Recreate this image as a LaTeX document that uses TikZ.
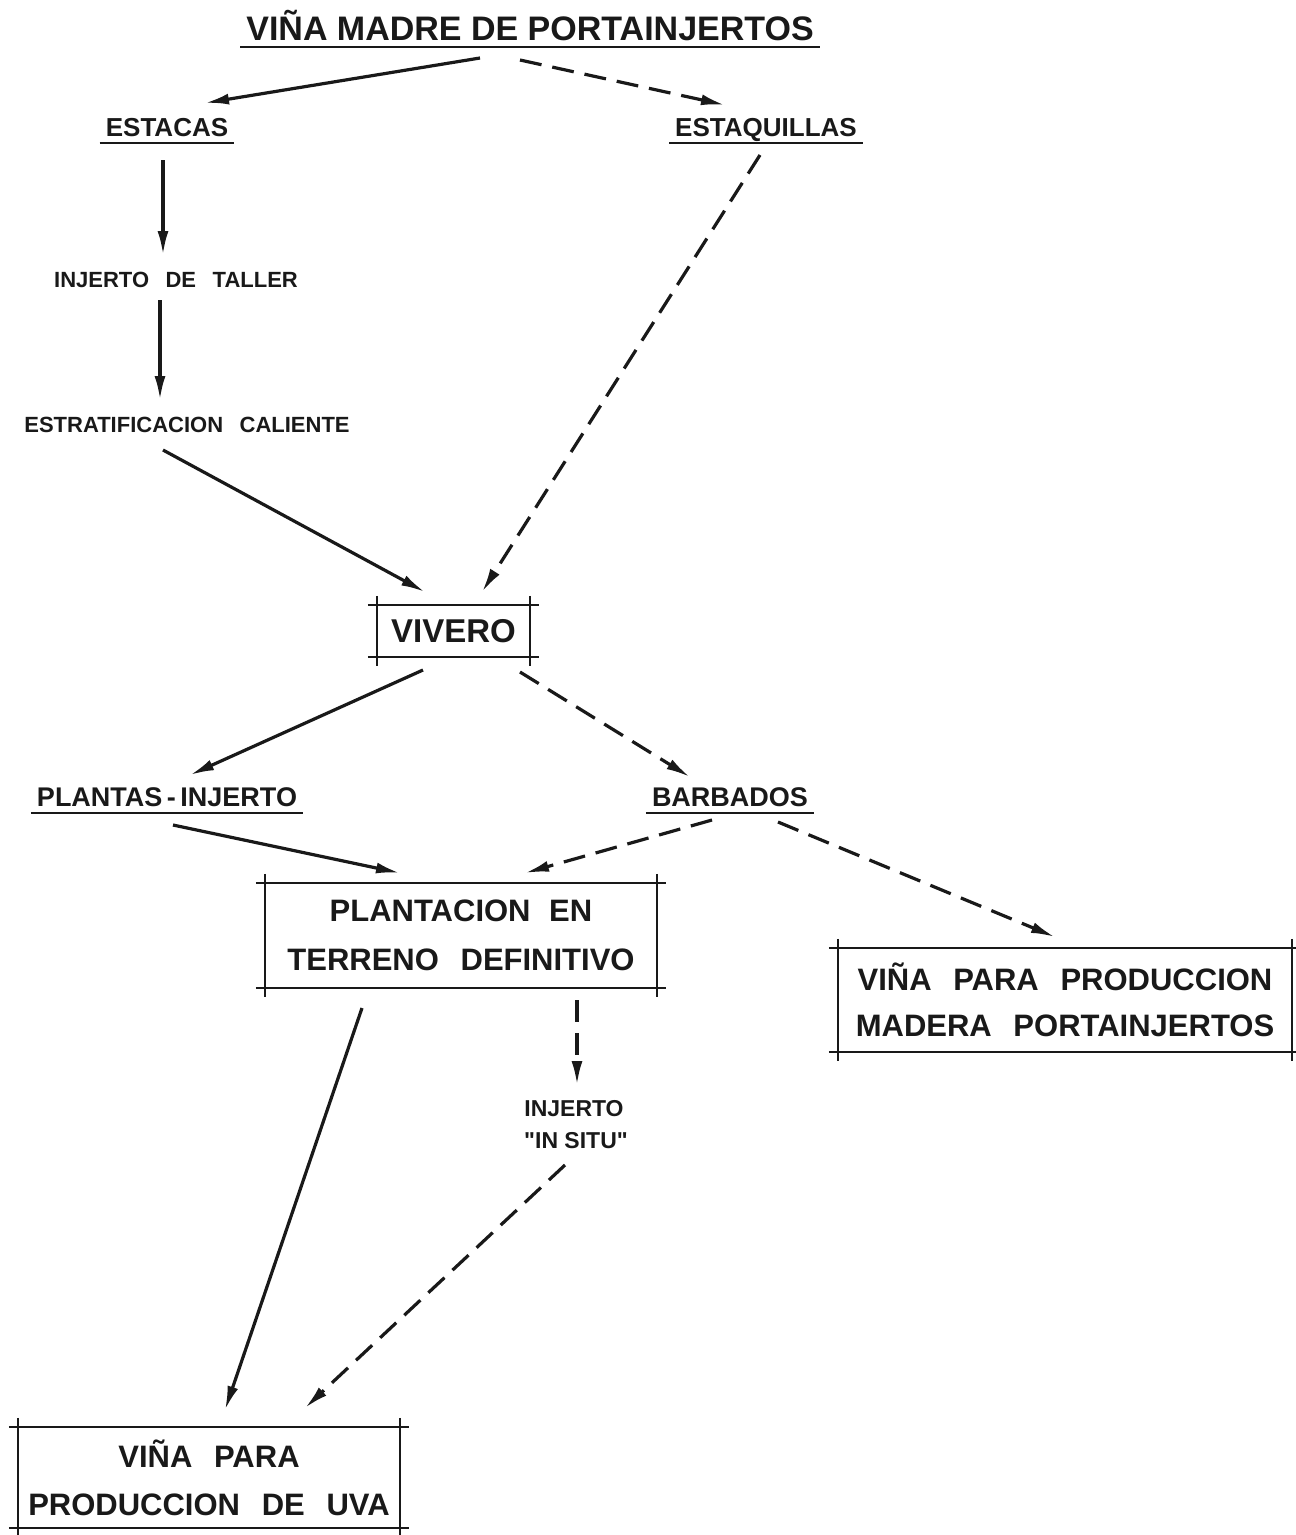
\documentclass[tikz,border=0pt]{standalone}
\usepackage{fontspec}
\setmainfont{Liberation Sans}
\newfontfamily\qfont{Liberation Sans}
\usetikzlibrary{arrows.meta,calc}
\newcommand\fsz[1]{\fontsize{#1}{#1}\selectfont\bfseries}
\newcommand\sq{{\qfont\bfseries\symbol{34}}}
\newcommand\ovbox[1]{%
  \draw[boxline] ([xshift=-9pt]#1.north west) -- ([xshift=9pt]#1.north east);
  \draw[boxline] ([xshift=-9pt]#1.south west) -- ([xshift=9pt]#1.south east);
  \draw[boxline] ([yshift=9pt]#1.north west) -- ([yshift=-9pt]#1.south west);
  \draw[boxline] ([yshift=9pt]#1.north east) -- ([yshift=-9pt]#1.south east);}
\newcommand\uline[1]{%
  \draw[ulinestyle] ([shift={(-6pt,-7pt)}]#1.base west) -- ([shift={(6pt,-7pt)}]#1.base east);}
\tikzset{
  lab/.style={anchor=base,inner sep=0pt,text=black!90},
  boxnode/.style={inner sep=0pt,align=center,text=black!90},
  boxline/.style={line width=1.8pt,black!90},
  ulinestyle/.style={line width=2.6pt,black!90},
  arr/.style={line width=3.2pt,black!90,-{Latex[length=24pt,width=11pt]}},
  darr/.style={arr,dash pattern=on 22pt off 11pt},
}
\begin{document}
\begin{tikzpicture}[x=1pt,y=-1pt]
\useasboundingbox (0,0) rectangle (1296,1535);
% labels
\node[lab,font=\fsz{34}] (title) at (530,40) {VIÑA MADRE DE PORTAINJERTOS};
\uline{title}
\node[lab,font=\fsz{26}] (estacas) at (167,136) {ESTACAS};
\uline{estacas}
\node[lab,font=\fsz{26}] (estaq) at (766,136) {ESTAQUILLAS};
\uline{estaq}
\node[lab,font=\fsz{22}] (taller) at (176,287) {INJERTO\hspace{0.75em}DE\hspace{0.75em}TALLER};
\node[lab,font=\fsz{22}] (estrat) at (187,432) {ESTRATIFICACION\hspace{0.75em}CALIENTE};
\node[lab,font=\fsz{27}] (plantas) at (167,806) {PLANTAS\,-\,INJERTO};
\uline{plantas}
\node[lab,font=\fsz{27}] (barb) at (730,806) {BARBADOS};
\uline{barb}
\node[lab,font=\fsz{23}] (insitua) at (574,1116) {INJERTO};
\node[lab,font=\fsz{23}] (insitub) at (576,1148) {\sq IN SITU\sq};
% boxes
\node[boxnode,minimum width=153pt,minimum height=52pt,font=\fsz{33}] (vivero) at (453.5,631) {VIVERO};
\ovbox{vivero}
\node[boxnode,minimum width=392pt,minimum height=105pt,font=\fsz{31}] (plant) at (461,935.5)
  {PLANTACION\hspace{0.6em}EN\\[18pt]TERRENO\hspace{0.7em}DEFINITIVO};
\ovbox{plant}
\node[boxnode,minimum width=454pt,minimum height=104pt,font=\fsz{31}] (madera) at (1065,1000)
  {VIÑA\hspace{0.7em}PARA\hspace{0.7em}PRODUCCION\\[15pt]MADERA\hspace{0.7em}PORTAINJERTOS};
\ovbox{madera}
\node[boxnode,minimum width=382pt,minimum height=101pt,font=\fsz{31}] (uva) at (209,1477.5)
  {VIÑA\hspace{0.7em}PARA\\[17pt]PRODUCCION\hspace{0.7em}DE\hspace{0.7em}UVA};
\ovbox{uva}
% connectors
\draw[arr]  ($(title.base)+(-50,18)$) -- ($(estacas.base)+(38,-33)$);
\draw[darr] ($(title.base)+(-10,20)$) -- ($(estaq.base)+(-41,-31)$);
\draw[arr]  ($(estacas.base)+(-4,24)$) -- ($(taller.base)+(-13,-32)$);
\draw[arr]  ($(taller.base)+(-16,13)$) -- ($(estrat.base)+(-27,-32)$);
\draw[arr]  ($(estrat.base)+(-24,18)$) -- ($(vivero)+(-28.5,-39)$);
\draw[darr] ($(estaq.base)+(-6,19)$) -- ($(vivero)+(28.5,-39)$);
\draw[arr]  ($(vivero)+(-30.5,39)$) -- ($(plantas.base)+(23,-31)$);
\draw[darr] ($(vivero)+(66.5,41)$) -- ($(barb.base)+(-40,-29)$);
\draw[arr]  ($(plantas.base)+(6,19)$) -- ($(plant)+(-61,-62.5)$);
\draw[darr] ($(barb.base)+(-18,14)$) -- ($(plant)+(64,-62.5)$);
\draw[darr] ($(barb.base)+(48,16)$) -- ($(madera)+(-10,-63)$);
\draw[darr] ($(plant)+(116,64.5)$) -- ($(insitua.base)+(3,-31)$);
\draw[arr]  ($(plant)+(-99,72.5)$) -- ($(uva)+(16,-67.5)$);
\draw[darr] ($(insitub.base)+(-11,17)$) -- ($(uva)+(96,-69.5)$);
\end{tikzpicture}
\end{document}
